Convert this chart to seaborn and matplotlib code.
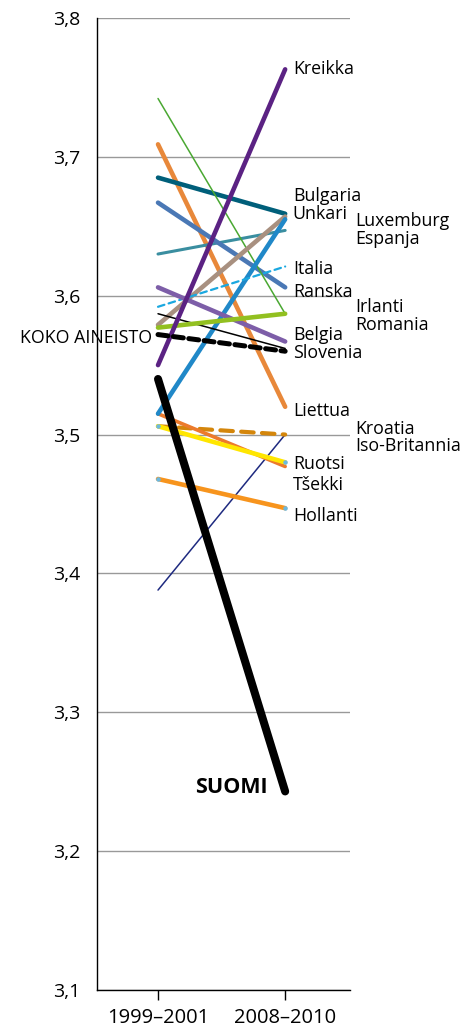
import pandas as pd
import matplotlib
matplotlib.use("Agg")
import matplotlib.pyplot as plt
import seaborn as sns

# Data: averages in two periods
periods = ["1999–2001", "2008–2010"]
countries = ["Kreikka", "Irlanti", "Liettua", "Bulgaria", "Ranska", "Luxemburg",
             "Unkari", "Espanja", "Italia", "Belgia", "Slovenia", "Romania",
             "KOKO AINEISTO", "SUOMI", "Tšekki", "Ruotsi", "Kroatia",
             "Iso-Britannia", "Hollanti"]
start_values = [3.550, 3.742, 3.709, 3.685, 3.667, 3.630,
                3.579, 3.515, 3.592, 3.606, 3.587, 3.577,
                3.572, 3.540, 3.515, 3.506, 3.506,
                3.388, 3.468]
end_values = [3.763, 3.587, 3.520, 3.659, 3.606, 3.647,
              3.657, 3.655, 3.621, 3.567, 3.562, 3.587,
              3.560, 3.243, 3.477, 3.480, 3.500,
              3.500, 3.447]

# styling per line: colour, width, dashed
colors = ["#5b2283", "#4aa832", "#e8883a", "#005f7a", "#4a78b5", "#3a8ea0",
          "#a89080", "#2088c8", "#1aa8e0", "#7d5ea8", "#000000", "#92c020",
          "#000000", "#000000", "#ec7a2c", "#ffe600", "#d4860b",
          "#1e2a80", "#f7941d"]
widths = [3.3, 1.1, 3.3, 3.3, 3.3, 2.2,
          3.3, 3.3, 1.6, 3.3, 1.1, 3.3,
          3.6, 5.8, 2.6, 3.3, 3.0,
          1.1, 3.3]
dashed = ["KOKO AINEISTO", "Italia", "Kroatia"]
draw_order = ["Iso-Britannia", "Hollanti", "Kroatia", "Tšekki", "Ruotsi", "Liettua",
              "Luxemburg", "Bulgaria", "Ranska", "Irlanti", "Unkari", "Espanja",
              "Italia", "Belgia", "Slovenia", "Romania", "Kreikka",
              "KOKO AINEISTO", "SUOMI"]

# label text positions (x in category units, y in data units)
labels_near = {"Kreikka": 3.763, "Bulgaria": 3.6715, "Unkari": 3.659, "Italia": 3.619,
               "Ranska": 3.603, "Belgia": 3.5715, "Slovenia": 3.559, "Liettua": 3.517,
               "Ruotsi": 3.479, "Tšekki": 3.464, "Hollanti": 3.441}
labels_far = {"Luxemburg": 3.6535, "Espanja": 3.641, "Irlanti": 3.5915, "Romania": 3.579,
              "Kroatia": 3.504, "Iso-Britannia": 3.4915}

rows = []
for c, s, e in zip(countries, start_values, end_values):
    rows.append({"maa": c, "x": 0, "arvo": s})
    rows.append({"maa": c, "x": 1, "arvo": e})
df = pd.DataFrame(rows)

sns.set_style("white")
plt.rcParams["font.family"] = ["Open Sans", "DejaVu Sans"]
plt.rcParams["text.color"] = "black"
plt.rcParams["xtick.color"] = "black"
plt.rcParams["ytick.color"] = "black"

fig = plt.figure(figsize=(4.72, 10.32), dpi=100)
ax = fig.add_axes([0.2055, 0.0407, 0.536, 0.9419])

style = {c: (col, w) for c, col, w in zip(countries, colors, widths)}
for c in draw_order:
    col, w = style[c]
    sub = df[df["maa"] == c]
    ls = (0, (2.0, 1.1)) if c == "KOKO AINEISTO" else ((0, (3.0, 2.0)) if c in dashed else "-")
    sns.lineplot(data=sub, x="x", y="arvo", ax=ax, color=col, linewidth=w,
                 linestyle=ls, solid_capstyle="round", dash_capstyle="round",
                 legend=False, zorder=3)

# small light-blue dots at some line ends
for c in ["Hollanti", "Ruotsi"]:
    pts = df[df["maa"] == c]
    ax.scatter(pts["x"], pts["arvo"], s=5, color="#6bb8e0", zorder=4)

lab_size = 12.8
for name, y in labels_near.items():
    ax.text(1.06, y, name, fontsize=lab_size, va="center", ha="left", clip_on=False)
for name, y in labels_far.items():
    ax.text(1.55, y, name, fontsize=lab_size, va="center", ha="left", clip_on=False)
ax.text(-0.05, 3.5695, "KOKO AINEISTO", fontsize=lab_size, va="center", ha="right", clip_on=False)
ax.text(0.58, 3.2455, "SUOMI", fontsize=15.5, fontweight="bold", va="center", ha="center")

ax.set_xlim(-0.48, 1.51)
ax.set_ylim(3.1, 3.8)
ax.set_yticks([3.1, 3.2, 3.3, 3.4, 3.5, 3.6, 3.7, 3.8])
ax.set_yticklabels([f"{v:.1f}".replace(".", ",") for v in ax.get_yticks()])
ax.set_xticks([0, 1])
ax.set_xticklabels(periods)
ax.set_xlabel("")
ax.set_ylabel("")
ax.grid(axis="y", color="#999999", linewidth=1.0)
ax.set_axisbelow(True)
for sp in ["top", "right"]:
    ax.spines[sp].set_visible(False)
for sp in ["left", "bottom"]:
    ax.spines[sp].set_color("black")
    ax.spines[sp].set_linewidth(1.0)
ax.tick_params(axis="y", length=0, pad=12, labelsize=14)
ax.tick_params(axis="x", length=7, width=1, direction="out", pad=6, labelsize=14.5, bottom=True)

fig.savefig("out.png", dpi=100)
